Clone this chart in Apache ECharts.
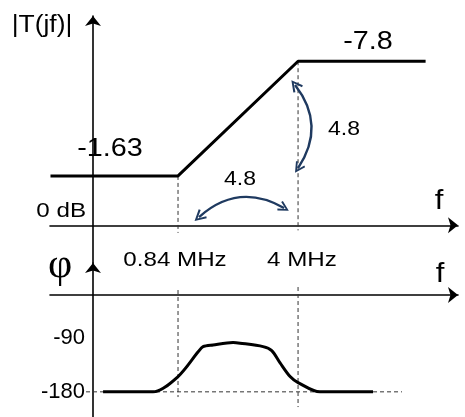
<!DOCTYPE html>
<html><head><meta charset="utf-8">
<script src="https://cdn.jsdelivr.net/npm/echarts@6/dist/echarts.min.js"></script>
<style>html,body{margin:0;padding:0;background:#fff}#c{width:465px;height:417px}</style>
</head><body><div id="c"></div>
<script>
// ---- data (frequencies in MHz, magnitude in schematic dB, phase in degrees) ----
const breakFreqs = [0.84, 4];
const magFreqs = [0.16, 0.84, 4, 21];
const magLevels = [5.9, 5.9, 19.6, 19.6];
const phaseFreqs = [0.317, 0.607, 0.84, 1.094, 1.163, 1.324, 1.718, 1.882, 2.537, 2.84, 3.166, 3.606, 4, 5.32, 10.6];
const phaseDeg   = [-180, -180, -154.5, -112.8, -104.5, -101.7, -97.8, -98.8, -104.5, -111.2, -131.7, -154.5, -164.5, -180, -180];
const phaseTicks = [-90, -180];
const magGuides = [[5.9, -0.9], [19.6, -0.6]];
const phaseGuides = [[-10.1, -188.7], [-5.1, -205.4]];
const refPhase = -180;
const refPhaseSpan = [0.254, 15.45];
const slopeArrows = [
  [[3.847, 16.76], [4, 6.84]],
  [[1.104, 0.99], [3.334, 2.07]]
];
const levelLabels = ['-1.63', '-7.8'];
const slopeLabel = '4.8';
const freqLabels = ['0.84 MHz', '4 MHz'];

// ---- chart ----
const chart = echarts.init(document.getElementById('c'), null, {renderer: 'canvas'});
const AX = {color: '#000', width: 1.6};
const FONT = 'Liberation Sans, Arial, sans-serif';
const xCommon = {type: 'log', logBase: 10, min: 0.159, max: 32,
  axisTick: {show: false}, axisLabel: {show: false}, splitLine: {show: false}};
const yHidden = {axisTick: {show: false}, splitLine: {show: false}};

const series = [];
series.push({type: 'line', xAxisIndex: 0, yAxisIndex: 0, symbol: 'none',
  data: magFreqs.map((f, i) => [f, magLevels[i]]),
  lineStyle: {color: '#000', width: 3}, z: 5});
breakFreqs.forEach((f, i) => {
  series.push({type: 'line', xAxisIndex: 0, yAxisIndex: 0, symbol: 'none',
    data: magGuides[i].map(v => [f, v]),
    lineStyle: {color: '#333', width: 1, type: [4, 3]}});
  series.push({type: 'line', xAxisIndex: 1, yAxisIndex: 1, symbol: 'none',
    data: phaseGuides[i].map(v => [f, v]),
    lineStyle: {color: '#333', width: 1, type: [4, 3]}});
});
series.push({type: 'line', xAxisIndex: 1, yAxisIndex: 1, symbol: 'none',
  data: refPhaseSpan.map(f => [f, refPhase]),
  lineStyle: {color: '#333', width: 1, type: [4, 3]}});
series.push({type: 'line', xAxisIndex: 1, yAxisIndex: 1, symbol: 'none', smooth: 0.3,
  data: phaseFreqs.map((f, i) => [f, phaseDeg[i]]),
  lineStyle: {color: '#000', width: 3}, z: 5});
series.push({type: 'lines', coordinateSystem: 'cartesian2d', xAxisIndex: 0, yAxisIndex: 0,
  symbol: ['path://M0,10 L6,0 L12,10 L10.2,11 L6,3.6 L1.8,11 Z', 'path://M0,10 L6,0 L12,10 L10.2,11 L6,3.6 L1.8,11 Z'],
  symbolSize: [12, 11],
  lineStyle: {color: '#1f3a60', width: 2.4, curveness: 0.36, opacity: 1},
  itemStyle: {color: '#1f3a60'},
  data: slopeArrows.map(c => ({coords: c})), z: 6});

function txt(text, x, y, size, opts) {
  opts = opts || {};
  return {type: 'text', x: x, y: y, scaleX: opts.sx || 1.15, z: 10,
    style: {text: text, fontSize: size, fontFamily: opts.family || FONT, fill: '#000',
      align: opts.align || 'center', verticalAlign: 'middle'}};
}

chart.setOption({
  animation: false,
  backgroundColor: '#fff',
  grid: [
    {left: 50, right: 7, top: 16, bottom: 154},
    {left: 50, right: 7, top: 263, bottom: 0}
  ],
  xAxis: [
    Object.assign({}, xCommon, {gridIndex: 0,
      axisLine: {show: true, onZero: true, lineStyle: AX, symbol: ['none', 'arrow'], symbolSize: [12, 10]}}),
    Object.assign({}, xCommon, {gridIndex: 1, position: 'top', offset: -32,
      axisLine: {show: true, onZero: false, lineStyle: AX, symbol: ['none', 'arrow'], symbolSize: [12, 10]}})
  ],
  yAxis: [
    Object.assign({}, yHidden, {type: 'value', gridIndex: 0, min: -4.5, max: 25, offset: -43,
      axisLine: {show: true, onZero: false, lineStyle: AX, symbol: ['none', 'arrow'], symbolSize: [12, 10]},
      axisLabel: {show: false}}),
    Object.assign({}, yHidden, {type: 'value', gridIndex: 1, min: -222, max: 35, offset: -43,
      axisLine: {show: true, onZero: false, lineStyle: AX, symbol: ['none', 'arrow'], symbolSize: [12, 10]},
      axisLabel: {show: true, customValues: phaseTicks, fontSize: 22, color: '#000', margin: 8, fontFamily: FONT}})
  ],
  series: series,
  graphic: [
    txt('|T(jf)|', 42, 26, 23),
    txt(levelLabels[0], 110, 149, 25),
    txt(levelLabels[1], 368, 42, 25),
    txt(slopeLabel, 344, 129, 20),
    txt(slopeLabel, 240, 179, 20),
    txt('0 dB', 86, 211, 21, {align: 'right'}),
    txt('f', 439, 202, 27),
    txt('f', 440, 275, 27),
    txt('φ', 60, 266, 42, {family: 'Liberation Serif, DejaVu Serif, serif', sx: 1}),
    txt(freqLabels[0], 175, 260, 21),
    txt(freqLabels[1], 302, 260, 21)
  ]
});
</script></body></html>
